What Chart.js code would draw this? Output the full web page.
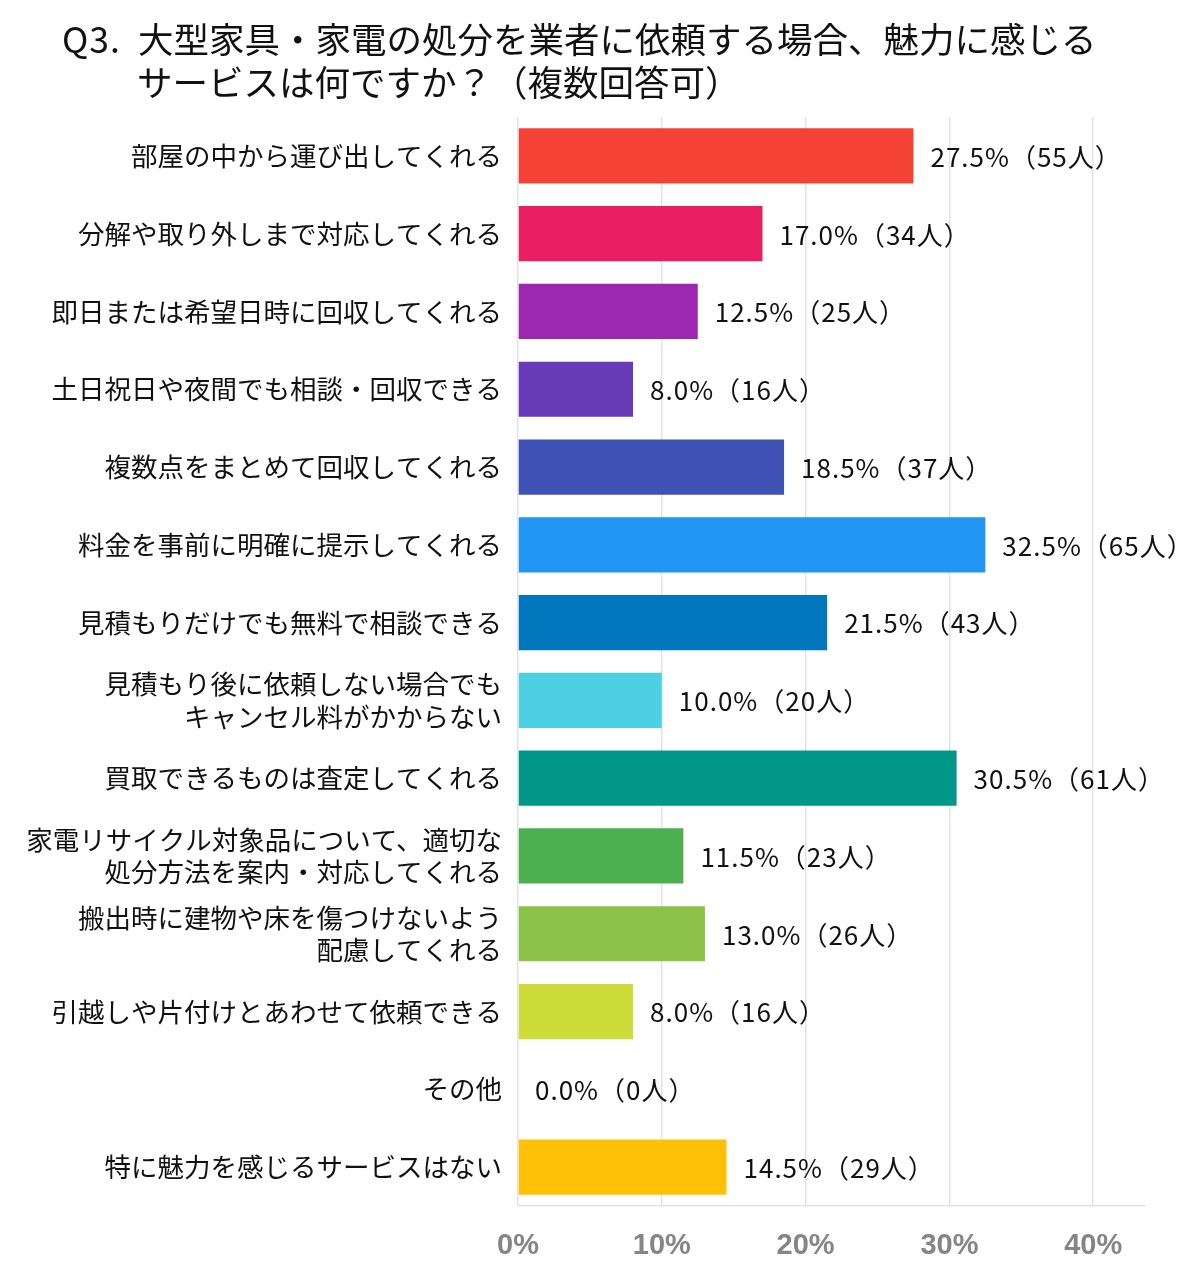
<!DOCTYPE html>
<html lang="ja">
<head>
<meta charset="utf-8">
<script src="https://cdn.jsdelivr.net/npm/chart.js@4"></script>
<style>
  html, body { margin: 0; padding: 0; background: #fff; }
  #wrap { position: relative; width: 1200px; height: 1280px; }
  #title {
    position: absolute; left: 62px; top: 16px;
    font-family: "Noto Sans CJK JP", sans-serif; font-size: 35.5px; line-height: 43px;
    color: #111; white-space: nowrap;
  }
  #title .q { margin-right: 17px; letter-spacing: 1px; }
  #title .l2 { padding-left: 75px; }
  #chartBox { position: absolute; left: 0; top: 0; width: 1200px; height: 1280px; }
</style>
</head>
<body>
<div id="wrap">
  <div id="chartBox"><canvas id="q3"></canvas></div>
  <div id="title"><span class="q">Q3.</span>大型家具・家電の処分を業者に依頼する場合、魅力に感じる<br><span class="l2">サービスは何ですか？（複数回答可）</span></div>
</div>
<script>
const categories = [
    '部屋の中から運び出してくれる',
    '分解や取り外しまで対応してくれる',
    '即日または希望日時に回収してくれる',
    '土日祝日や夜間でも相談・回収できる',
    '複数点をまとめて回収してくれる',
    '料金を事前に明確に提示してくれる',
    '見積もりだけでも無料で相談できる',
    ['見積もり後に依頼しない場合でも', 'キャンセル料がかからない'],
    '買取できるものは査定してくれる',
    ['家電リサイクル対象品について、適切な', '処分方法を案内・対応してくれる'],
    ['搬出時に建物や床を傷つけないよう', '配慮してくれる'],
    '引越しや片付けとあわせて依頼できる',
    'その他',
    '特に魅力を感じるサービスはない'
];
const percents = [27.5, 17.0, 12.5, 8.0, 18.5, 32.5, 21.5, 10.0, 30.5, 11.5, 13.0, 8.0, 0.0, 14.5];
const counts = [55, 34, 25, 16, 37, 65, 43, 20, 61, 23, 26, 16, 0, 29];
const xTicks = [0, 10, 20, 30, 40];

const barColors = [
    '#F44336', '#E91E63', '#9C27B0', '#673AB7', '#3F51B5', '#2196F3', '#0277BD',
    '#4DD0E1', '#009688', '#4CAF50', '#8BC34A', '#CDDC39', '#9E9E9E', '#FFC107'
];

const jpFont = '"Noto Sans CJK JP", "Noto Sans", sans-serif';

// value labels to the right of every bar
const valueLabels = {
    id: 'valueLabels',
    afterDatasetsDraw(chart) {
        const ctx = chart.ctx;
        const meta = chart.getDatasetMeta(0);
        ctx.save();
        ctx.font = '26px ' + jpFont;
        ctx.letterSpacing = '1px';
        ctx.fillStyle = '#111';
        ctx.textAlign = 'left';
        ctx.textBaseline = 'middle';
        meta.data.forEach((bar, i) => {
            const txt = percents[i].toFixed(1) + '%（' + counts[i] + '人）';
            ctx.fillText(txt, bar.x + 17, bar.y + 1);
        });
        ctx.restore();
    }
};

new Chart(document.getElementById('q3').getContext('2d'), {
    type: 'bar',
    data: {
        labels: categories,
        datasets: [{
            data: percents,
            backgroundColor: barColors,
            borderWidth: 0,
            categoryPercentage: 1,
            barPercentage: 0.71
        }]
    },
    options: {
        indexAxis: 'y',
        responsive: true,
        maintainAspectRatio: false,
        animation: false,
        layout: { padding: { top: 117, right: 55, bottom: 0, left: 0 } },
        plugins: {
            legend: { display: false },
            tooltip: { enabled: false }
        },
        scales: {
            x: {
                min: 0,
                max: 43.6,
                afterBuildTicks(scale) {
                    scale.ticks = xTicks.map(v => ({ value: v }));
                },
                afterFit(scale) { scale.height = 74; },
                grid: { color: '#e3e3e3', lineWidth: 1.5, drawTicks: false },
                border: { color: '#e3e3e3', width: 1.5 },
                ticks: {
                    padding: 23,
                    color: '#858585',
                    font: { family: '"Liberation Sans", Arial, sans-serif', size: 29, weight: 'bold' },
                    callback: v => v + '%'
                }
            },
            y: {
                afterFit(scale) { scale.width = 518; },
                grid: { display: false, drawTicks: false },
                border: { display: false },
                ticks: {
                    padding: 16,
                    color: '#111',
                    font: { family: jpFont, size: 26.5, lineHeight: 1.22 }
                }
            }
        }
    },
    plugins: [valueLabels]
});
</script>
</body>
</html>
